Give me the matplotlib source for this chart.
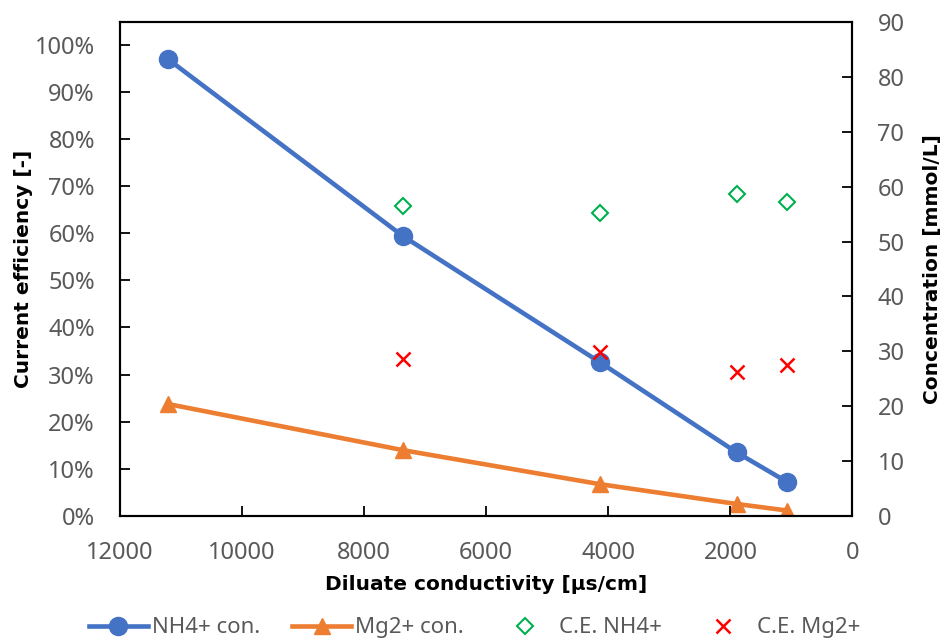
import numpy as np
import matplotlib
matplotlib.use("Agg")
import matplotlib.pyplot as plt
from matplotlib.ticker import PercentFormatter

plt.rcParams['font.family'] = ['Noto Sans', 'DejaVu Sans']

# diluate conductivity [us/cm]
conductivity = [11210, 7365, 4136, 1899, 1070]

# concentrations [mmol/L] (right axis)
nh4_conc = [83.2, 51.0, 28.0, 11.6, 6.2]
mg_conc = [20.4, 12.0, 5.8, 2.2, 1.0]

# current efficiency (left axis), first point has no C.E.
ce_x = [7365, 4136, 1899, 1070]
ce_nh4 = [0.657, 0.643, 0.684, 0.666]
ce_mg = [0.333, 0.349, 0.306, 0.321]

grey = '#595959'
bold = dict(family='DejaVu Sans', fontsize=14.5, fontweight='bold', color='black')

fig = plt.figure(figsize=(9.47, 6.40), dpi=100)
ax = fig.add_axes([0.1267, 0.1937, 0.7735, 0.7719])
ax2 = ax.twinx()
# scatter (left axis) drawn over the lines
ax.set_zorder(ax2.get_zorder() + 1)
ax.patch.set_visible(False)

# concentrations on right axis
l1, = ax2.plot(conductivity, nh4_conc, color='#4472C4', lw=3.3, marker='o', ms=13,
               label='NH4+ con.')
l2, = ax2.plot(conductivity, mg_conc, color='#ED7D31', lw=3.3, marker='^', ms=11.5,
               label='Mg2+ con.')

# current efficiency on left axis
s1, = ax.plot(ce_x, ce_nh4, ls='none', marker='D', ms=8, mfc='none', mec='#00B050',
              mew=1.5, label='C.E. NH4+')
s2, = ax.plot(ce_x, ce_mg, ls='none', marker='x', ms=10, color='#FF0000', mew=1.8,
              label='C.E. Mg2+')

ax.set_xlim(12000, 0)
ax.set_ylim(0, 1.048)
ax.set_yticks(np.arange(0, 1.01, 0.1))
ax.yaxis.set_major_formatter(PercentFormatter(1.0, decimals=0))
ax.set_xticks(np.arange(0, 12001, 2000))
ax2.set_ylim(0, 90)
ax2.set_yticks(np.arange(0, 91, 10))

for a in (ax, ax2):
    for sp in a.spines.values():
        sp.set_linewidth(1.5)
        sp.set_color('black')
    a.tick_params(direction='in', length=7, width=1.3, labelsize=17, labelcolor=grey,
                  color='black')
ax.tick_params(axis='x', pad=18)
ax.tick_params(axis='y', pad=18)
ax2.tick_params(axis='y', pad=18)

ax.set_xlabel('Diluate conductivity [μs/cm]', labelpad=7, **bold)
ax.set_ylabel('Current efficiency [-]', labelpad=1, **bold)
ax2.set_ylabel('Concentration [mmol/L]', labelpad=13, **bold)

leg = fig.legend(handles=[l1, l2, s1, s2], loc='center', ncol=4,
                 bbox_to_anchor=(0.501, 0.019), frameon=False, fontsize=16,
                 handlelength=2.65, handletextpad=0.18, columnspacing=1.45,
                 borderpad=0)
for t in leg.get_texts():
    t.set_color(grey)

fig.savefig('out.png', dpi=100)
